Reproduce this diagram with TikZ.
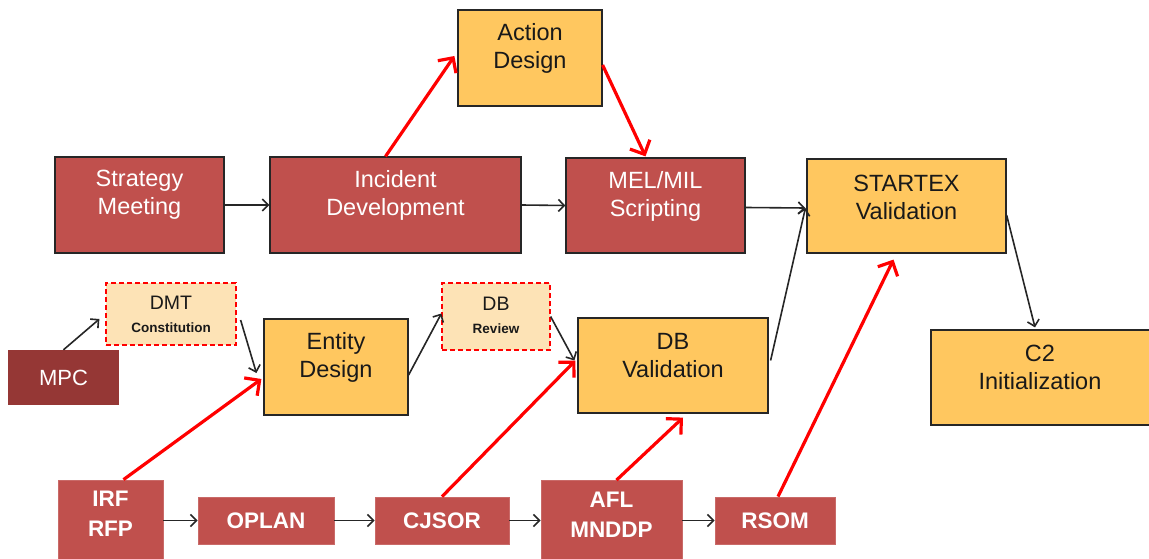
\documentclass[tikz,border=0pt]{standalone}
\usepackage{fontspec}
\setmainfont{Liberation Sans}
\usetikzlibrary{arrows.meta,calc}
\definecolor{rbox}{HTML}{C0504D}
\definecolor{rdark}{HTML}{953735}
\definecolor{ybox}{HTML}{FFC75F}
\definecolor{lbox}{HTML}{FDE3B6}
\begin{document}
\begin{tikzpicture}[x=1pt,y=-1pt,
  redbox/.style={draw=black!85, line width=1.2pt, fill=rbox, inner sep=0pt},
  botbox/.style={draw=rbox!85!white, line width=0.8pt, fill=rbox, inner sep=0pt},
  ybx/.style={draw=black!85, line width=1.2pt, fill=ybox, inner sep=0pt},
  dbox/.style={draw=red, dash pattern=on 5pt off 3pt, line width=1.2pt, fill=lbox, inner sep=0pt},
  mpcbox/.style={draw=none, fill=rdark, inner sep=0pt},
  wtxt/.style={text=white, align=center, font=\fontsize{23.5}{28}\selectfont, inner sep=0pt},
  btxt/.style={text=black!90, align=center, font=\fontsize{23.5}{28}\selectfont, inner sep=0pt},
  wbold/.style={text=white, align=center, font=\fontsize{22.5}{30}\selectfont\bfseries, inner sep=0pt},
  redarr/.style={draw=red, line width=3.2pt, -{Straight Barb[length=11pt,width=22pt,line width=3.2pt]}},
  blkarr/.style={draw=black!85, line width=1.6pt, -{Straight Barb[length=6pt,width=12pt,line width=1.6pt]}}
]
\useasboundingbox (0,0) rectangle (1149,559);
\fill[white] (0,0) rectangle (1149,559);

% boxes
\node[ybx, minimum width=144pt, minimum height=96pt] (ad) at (530,58) {};
\node[redbox, minimum width=169pt, minimum height=96pt] (sm) at (139.5,205) {};
\node[redbox, minimum width=251pt, minimum height=96pt] (inc) at (395.5,205) {};
\node[redbox, minimum width=179pt, minimum height=95pt] (mel) at (655.5,205.5) {};
\node[ybx, minimum width=199pt, minimum height=94pt] (st) at (906.5,206) {};
\node[dbox, minimum width=130pt, minimum height=62pt] (dmt) at (171,314) {};
\node[mpcbox, minimum width=111pt, minimum height=55pt] (mpc) at (63.5,377.5) {};
\node[ybx, minimum width=144pt, minimum height=96pt] (ent) at (336,367) {};
\node[dbox, minimum width=108pt, minimum height=67pt] (dbr) at (496,316.5) {};
\node[ybx, minimum width=190pt, minimum height=95pt] (dbv) at (673,365.5) {};
\node[ybx, minimum width=220pt, minimum height=95pt] (c2) at (1041,377.5) {};
\node[botbox, minimum width=105pt, minimum height=84pt] (irf) at (110.5,522) {};
\node[botbox, minimum width=136pt, minimum height=47pt] (op) at (266,520.5) {};
\node[botbox, minimum width=134pt, minimum height=47pt] (cj) at (442,520.5) {};
\node[botbox, minimum width=141pt, minimum height=84pt] (afl) at (611.5,522.5) {};
\node[botbox, minimum width=120pt, minimum height=47pt] (rs) at (775,520.5) {};

% texts
\node[btxt] (adt) at ($(ad)+(0,-10)$) {Action\\Design};
\node[wtxt] (smt) at ($(sm)+(0,-10)$) {Strategy\\Meeting};
\node[wtxt] (inct) at ($(inc)+(0,-10)$) {Incident\\Development};
\node[wtxt] (melt) at ($(mel)+(0,-9)$) {MEL/MIL\\Scripting};
\node[btxt] (stt) at ($(st)+(0,-9)$) {STARTEX\\Validation};
\node[btxt, font=\fontsize{19.5}{25}\selectfont] (dmtt) at ($(dmt)+(0,0)$) {DMT\\[-2pt]{\fontsize{13.5}{16}\selectfont\bfseries Constitution}};
\node[btxt, font=\fontsize{19.5}{25}\selectfont] (dbrt) at ($(dbr)+(0,-1)$) {DB\\[-2pt]{\fontsize{13.5}{16}\selectfont\bfseries Review}};
\node[wtxt, font=\fontsize{22}{26}\selectfont] (mpct) at (mpc) {MPC};
\node[btxt] (entt) at ($(ent)+(0,-10)$) {Entity\\Design};
\node[btxt] (dbvt) at ($(dbv)+(0,-9.5)$) {DB\\Validation};
\node[btxt] (c2t) at ($(c2)+(-1,-10)$) {C2\\Initialization};
\node[wbold] (irft) at ($(irf)+(0,-8)$) {IRF\\RFP};
\node[wbold] (opt) at (op) {OPLAN};
\node[wbold] (cjt) at (cj) {CJSOR};
\node[wbold] (aflt) at ($(afl)+(0,-8)$) {AFL\\MNDDP};
\node[wbold] (rst) at (rs) {RSOM};

% black arrows
\draw[blkarr] (sm.east) -- (inc.west);
\draw[blkarr] (inc.east) -- (mel.west);
\draw[blkarr] ($(mel.east)+(0,2)$) -- ($(st.west)+(-1,2)$);
\draw[blkarr] ($(dbv.east)+(2,-5)$) -- ($(st.west)+(-1,2)$);
\draw[blkarr] ($(st.east)+(0,9)$) -- ($(c2.north)+(-6,-2)$);
\draw[blkarr] (mpc.north) -- ($(dmt.west)+(-6,5)$);
\draw[blkarr] ($(dmt.east)+(4,6)$) -- ($(ent.west)+(-7,6)$);
\draw[blkarr] ($(ent.east)+(0,8)$) -- ($(dbr.west)+(0,-3)$);
\draw[blkarr] (dbr.east) -- ($(dbv.west)+(-3,-5)$);
\draw[blkarr] (irf.east |- op.west) -- (op.west);
\draw[blkarr] (op.east) -- (cj.west);
\draw[blkarr] (cj.east) -- (afl.west |- cj.east);
\draw[blkarr] (afl.east |- rs.west) -- (rs.west);

% red arrows
\draw[redarr] ($(inc.north)+(-10,0)$) -- ($(ad.west)+(-3,-2)$);
\draw[redarr] ($(ad.east)+(0,7)$) -- ($(mel.north)+(-10,-1)$);
\draw[redarr] ($(irf.north)+(13,0)$) -- ($(ent.west)+(-2,12)$);
\draw[redarr] (cj.north) -- ($(dbv.west)+(-2,-5)$);
\draw[redarr] ($(afl.north)+(5,0)$) -- ($(dbv.south)+(10,4)$);
\draw[redarr] ($(rs.north)+(3,0)$) -- ($(st.south)+(-13,6)$);
\end{tikzpicture}
\end{document}
